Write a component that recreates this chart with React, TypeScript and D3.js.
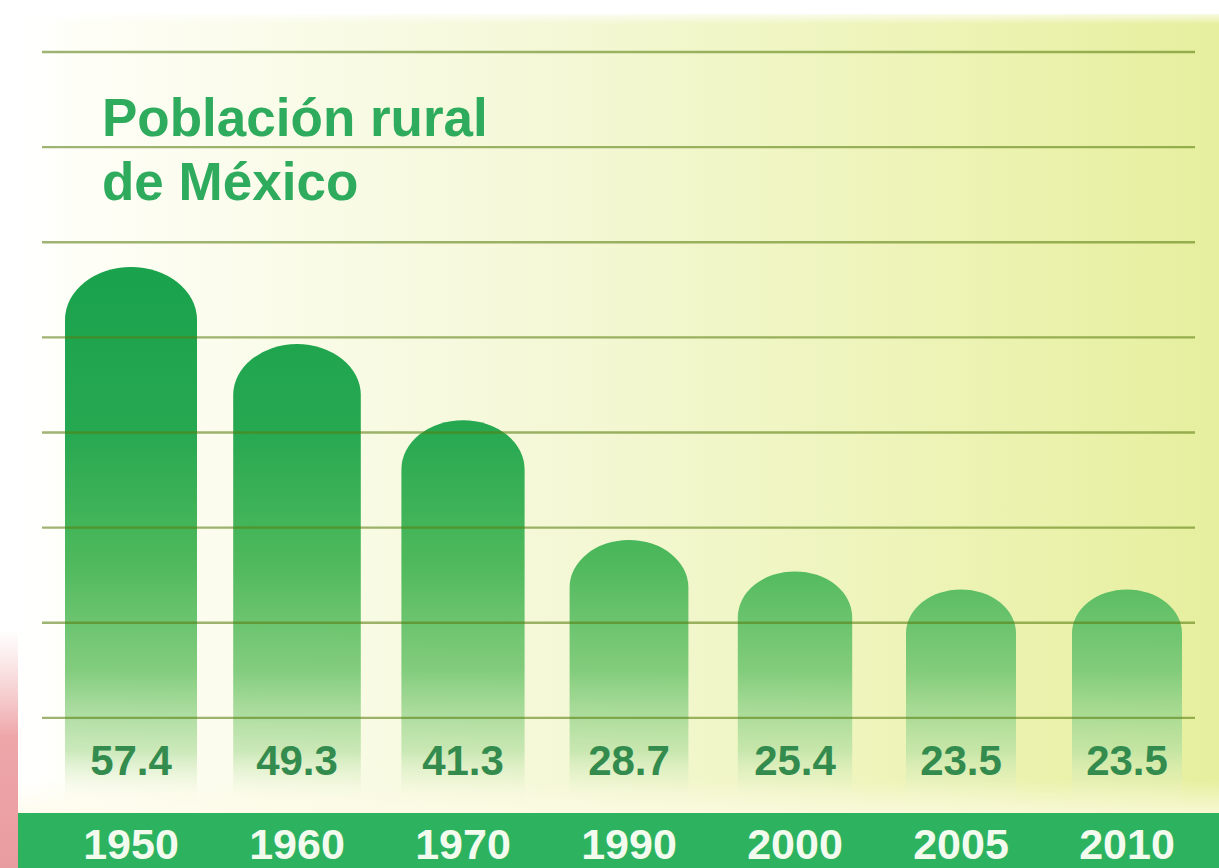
import React from "react";
import * as d3 from "d3";

const years: string[] = ["1950", "1960", "1970", "1990", "2000", "2005", "2010"];
const values: number[] = [57.4, 49.3, 41.3, 28.7, 25.4, 23.5, 23.5];
const gridTicks: number[] = [10, 20, 30, 40, 50, 60, 70, 80];
const titleLines: string[] = ["Población rural", "de México"];

const W = 1219;
const H = 868;
const FONT = "'Liberation Sans', Arial, Helvetica, sans-serif";

export default function App() {
  const x = d3.scalePoint<string>().domain(years).range([131, 1127]);
  const y = d3.scaleLinear().domain([0, 80]).range([813, 52]);
  const widthByIndex = d3.scaleLinear().domain([0, 5]).range([132, 110]).clamp(true);

  const barPath = (d: number, i: number, yr: string) => {
    const cx = x(yr) as number;
    const w = widthByIndex(i);
    const rx = w / 2;
    const ry = rx * 0.8;
    const top = y(d);
    const base = y(0);
    const x0 = cx - rx;
    const x1 = cx + rx;
    return `M${x0},${base} L${x0},${top + ry} A${rx},${ry} 0 0 1 ${x1},${top + ry} L${x1},${base} Z`;
  };

  return (
    <svg
      width={W}
      height={H}
      viewBox={`0 0 ${W} ${H}`}
      style={{ position: "absolute", left: 0, top: 0, display: "block" }}
    >
      <defs>
        <linearGradient id="bgH" x1="0" y1="0" x2="1" y2="0">
          <stop offset="0" stopColor="#ffffff" />
          <stop offset="0.06" stopColor="#fefef6" />
          <stop offset="0.45" stopColor="#f4f8d6" />
          <stop offset="0.8" stopColor="#ecf3b2" />
          <stop offset="1" stopColor="#e6ef9e" />
        </linearGradient>
        <linearGradient id="topFade" x1="0" y1="0" x2="0" y2="1">
          <stop offset="0" stopColor="#ffffff" stopOpacity="1" />
          <stop offset="1" stopColor="#ffffff" stopOpacity="0" />
        </linearGradient>
        <linearGradient id="bottomFade" x1="0" y1="0" x2="0" y2="1">
          <stop offset="0" stopColor="#fffbe8" stopOpacity="0" />
          <stop offset="1" stopColor="#fffbe8" stopOpacity="0.7" />
        </linearGradient>
        <linearGradient id="pink" x1="0" y1="0" x2="0" y2="1">
          <stop offset="0" stopColor="#f2b8ba" stopOpacity="0" />
          <stop offset="0.45" stopColor="#eea6a9" stopOpacity="1" />
          <stop offset="1" stopColor="#e99ca0" stopOpacity="1" />
        </linearGradient>
        <linearGradient
          id="barGrad"
          gradientUnits="userSpaceOnUse"
          x1="0"
          y1={y(57.4)}
          x2="0"
          y2={y(0) - 8}
        >
          <stop offset="0" stopColor="#1aa24c" stopOpacity="1" />
          <stop offset="0.3" stopColor="#26a851" stopOpacity="1" />
          <stop offset="0.55" stopColor="#4fb95c" stopOpacity="1" />
          <stop offset="0.75" stopColor="#7cca78" stopOpacity="0.95" />
          <stop offset="0.9" stopColor="#b6e0a2" stopOpacity="0.7" />
          <stop offset="1" stopColor="#f4f7dc" stopOpacity="0" />
        </linearGradient>
      </defs>

      <rect x={0} y={0} width={W} height={H} fill="#ffffff" />
      <rect x={18} y={14} width={W - 18} height={H - 14} fill="url(#bgH)" />
      <rect x={18} y={10} width={W - 18} height={14} fill="url(#topFade)" />
      <rect x={0} y={630} width={18} height={H - 630} fill="url(#pink)" />

      {values.map((v, i) => (
        <path key={years[i]} d={barPath(v, i, years[i])} fill="url(#barGrad)" />
      ))}

      <rect x={18} y={780} width={W - 18} height={33} fill="url(#bottomFade)" />

      {gridTicks.map((t) => (
        <line
          key={t}
          x1={42}
          x2={1195}
          y1={y(t)}
          y2={y(t)}
          stroke="#5a7d10"
          strokeOpacity={0.58}
          strokeWidth={2.4}
        />
      ))}

      <g fontFamily={FONT} fontWeight="bold" fill="#2eab5d" fontSize={53}>
        {titleLines.map((t, i) => (
          <text key={t} x={102} y={136 + i * 64}>
            {t}
          </text>
        ))}
      </g>

      {values.map((v, i) => (
        <text
          key={"v" + years[i]}
          x={x(years[i]) as number}
          y={775}
          textAnchor="middle"
          fontFamily={FONT}
          fontWeight="bold"
          fontSize={42}
          fill="#338b4e"
        >
          {d3.format(".1f")(v)}
        </text>
      ))}

      <rect x={18} y={y(0)} width={W - 18} height={H - y(0)} fill="#2db35f" />

      {years.map((yr) => (
        <text
          key={"y" + yr}
          x={x(yr) as number}
          y={859}
          textAnchor="middle"
          fontFamily={FONT}
          fontWeight="bold"
          fontSize={43}
          fill="#f3fbee"
        >
          {yr}
        </text>
      ))}
    </svg>
  );
}
